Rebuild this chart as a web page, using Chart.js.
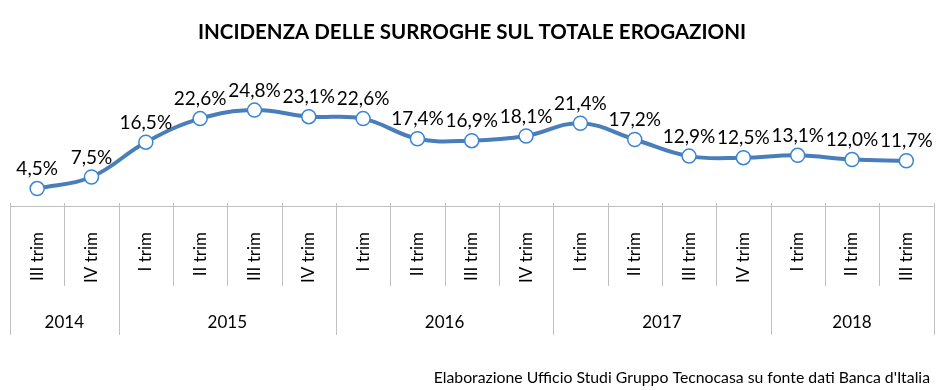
<!DOCTYPE html>
<html>
<head>
<meta charset="utf-8">
<script src="https://cdn.jsdelivr.net/npm/chart.js@4.4.0/dist/chart.umd.min.js"></script>
<style>
  html, body { margin: 0; padding: 0; background: #fff; }
  #wrap { width: 942px; height: 390px; }
</style>
</head>
<body>
<div id="wrap"><canvas id="chart" width="942" height="390"></canvas></div>
<script>
var quarters = ['III trim','IV trim','I trim','II trim','III trim','IV trim','I trim','II trim','III trim','IV trim','I trim','II trim','III trim','IV trim','I trim','II trim','III trim'];
var years = ['2014','2015','2016','2017','2018'];
var quartersPerYear = [2, 4, 4, 4, 3];
var incidenza = [4.5, 7.5, 16.5, 22.6, 24.8, 23.1, 22.6, 17.4, 16.9, 18.1, 21.4, 17.2, 12.9, 12.5, 13.1, 12.0, 11.7];

var FONT = 'Lato, "Open Sans", sans-serif';

var decorations = {
  id: 'decorations',
  afterDraw: function (chart) {
    var ctx = chart.ctx;
    var area = chart.chartArea;
    var step = (area.right - area.left) / quarters.length;
    var axisY = area.bottom;

    ctx.save();
    ctx.strokeStyle = '#c0c0c0';
    ctx.lineWidth = 1;

    // axis line
    ctx.beginPath();
    ctx.moveTo(area.left, axisY + 0.5);
    ctx.lineTo(area.right, axisY + 0.5);
    ctx.stroke();

    // separators between quarters, longer ones between years
    var yearEdges = [0];
    var acc = 0;
    quartersPerYear.forEach(function (n) { acc += n; yearEdges.push(acc); });
    for (var i = 0; i <= quarters.length; i++) {
      var bx = Math.round(area.left + i * step) + 0.5;
      var isYear = yearEdges.indexOf(i) !== -1;
      ctx.beginPath();
      ctx.moveTo(bx, axisY - 3);
      ctx.lineTo(bx, isYear ? 335 : 286);
      ctx.stroke();
    }

    // year labels
    ctx.fillStyle = '#000';
    ctx.font = '17px ' + FONT;
    ctx.textAlign = 'center';
    ctx.textBaseline = 'middle';
    for (var y = 0; y < years.length; y++) {
      var cx = area.left + (yearEdges[y] + yearEdges[y + 1]) / 2 * step;
      ctx.fillText(years[y], cx, 323);
    }

    // data labels
    var meta = chart.getDatasetMeta(0);
    ctx.font = '19px ' + FONT;
    ctx.textBaseline = 'bottom';
    meta.data.forEach(function (pt, k) {
      var txt = incidenza[k].toFixed(1).replace('.', ',') + '%';
      ctx.fillText(txt, pt.x, pt.y - 10);
    });

    // title
    ctx.font = 'bold 20.5px ' + FONT;
    ctx.textBaseline = 'middle';
    ctx.fillText('INCIDENZA DELLE SURROGHE SUL TOTALE EROGAZIONI', 472, 32);

    // source
    ctx.font = '15.8px ' + FONT;
    ctx.textAlign = 'right';
    ctx.fillText("Elaborazione Ufficio Studi Gruppo Tecnocasa su fonte dati Banca d'Italia", 930, 378);
    ctx.restore();
  }
};

var ctx = document.getElementById('chart');
var chart = new Chart(ctx, {
  type: 'line',
  data: {
    labels: quarters,
    datasets: [{
      data: incidenza,
      borderColor: '#4a7ebb',
      borderWidth: 4,
      tension: 0.4,
      pointRadius: 7,
      pointBorderWidth: 1.5,
      pointBackgroundColor: '#ffffff',
      pointBorderColor: '#3a86d3'
    }]
  },
  options: {
    responsive: false,
    animation: false,
    devicePixelRatio: 1,
    layout: { padding: { top: 90, left: 10, right: 5, bottom: 0 } },
    plugins: {
      legend: { display: false },
      tooltip: { enabled: false }
    },
    scales: {
      y: { display: false, min: 0, max: 30 },
      x: {
        offset: true,
        border: { display: false },
        grid: { display: false, drawTicks: false },
        ticks: {
          color: '#000',
          font: { family: FONT, size: 17 },
          maxRotation: 90,
          minRotation: 90,
          autoSkip: false,
          padding: 26
        },
        afterFit: function (scale) {
          scale.height = 184;
          scale.paddingLeft = 0;
          scale.paddingRight = 0;
        }
      }
    }
  },
  plugins: [decorations]
});
</script>
</body>
</html>
